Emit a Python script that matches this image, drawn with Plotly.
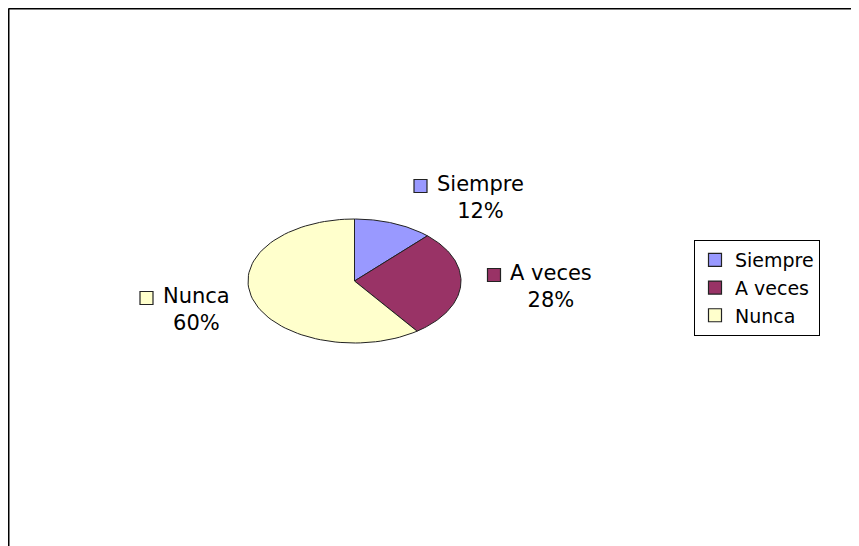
import numpy as np
import plotly.graph_objects as go

# --- Data ---
categorias = ["Siempre", "A veces", "Nunca"]
porcentajes = [12, 28, 60]
colores = ["#9999FF", "#993366", "#FFFFCC"]

# --- Layout (pixel coordinates of the browser page) ---
W, H = 859, 546
OFF = 8                      # page body margin offsets the figure
cx, cy = 354.5, 281          # pie centre
rx, ry = 106.5, 62           # pie is stretched horizontally in the original
font = dict(family="DejaVu Sans", size=21, color="#000000")

# label block centres (text centre x, block centre y)
label_pos = [(480, 197), (551, 286), (196, 309)]
text_w = [87, 82, 67]       # approx text width of each category name

fig = go.Figure()

# --- Pie slices, clockwise from 12 o'clock ---
start = 90.0
for nombre, pct, col in zip(categorias, porcentajes, colores):
    sweep = pct / sum(porcentajes) * 360
    ang = np.radians(np.linspace(start, start - sweep, 80))
    xs = np.concatenate([[cx], cx + rx * np.cos(ang), [cx]])
    ys = np.concatenate([[cy], cy - ry * np.sin(ang), [cy]])
    fig.add_trace(go.Scatter(
        x=xs, y=ys, mode="lines", fill="toself", fillcolor=col,
        line=dict(color="#222222", width=1), showlegend=False, hoverinfo="skip",
    ))
    start -= sweep

# --- Data labels with legend key ---
for nombre, pct, col, (tx, ty), tw in zip(categorias, porcentajes, colores, label_pos, text_w):
    fig.add_annotation(
        x=tx, y=ty, xref="x", yref="y", text=f"{nombre}<br>{pct}%",
        showarrow=False, align="center", font=font,
    )
    fig.add_trace(go.Scatter(
        x=[tx - tw / 2 - 16], y=[ty - 11], mode="markers",
        marker=dict(symbol="square", size=13, color=col, line=dict(color="#222222", width=1.2)),
        showlegend=False, hoverinfo="skip",
    ))

# --- Legend entries ---
for nombre, col in zip(categorias, colores):
    fig.add_trace(go.Scatter(
        x=[None], y=[None], mode="markers", name=nombre,
        marker=dict(symbol="square", size=13, color=col, line=dict(color="#222222", width=1.2)),
    ))

# --- Chart border (top and left only visible) ---
fig.add_shape(type="line", x0=8.5, x1=W + OFF, y0=8.5, y1=8.5, xref="x", yref="y",
              line=dict(color="#000000", width=2))
fig.add_shape(type="line", x0=8.5, x1=8.5, y0=8.5, y1=H + OFF, xref="x", yref="y",
              line=dict(color="#000000", width=2))

fig.update_xaxes(range=[OFF, W + OFF], visible=False, fixedrange=True)
fig.update_yaxes(range=[H + OFF, OFF], visible=False, fixedrange=True)

fig.update_layout(
    width=W, height=H,
    margin=dict(l=0, r=0, t=0, b=0),
    paper_bgcolor="white", plot_bgcolor="white",
    font=font,
    legend=dict(
        x=(694 - OFF) / W, y=1 - (240 - OFF) / H, xanchor="left", yanchor="top",
        bordercolor="#000000", borderwidth=1, bgcolor="white",
        itemwidth=30, tracegroupgap=0, font=dict(size=19),
    ),
)

fig.write_html("out.html")
